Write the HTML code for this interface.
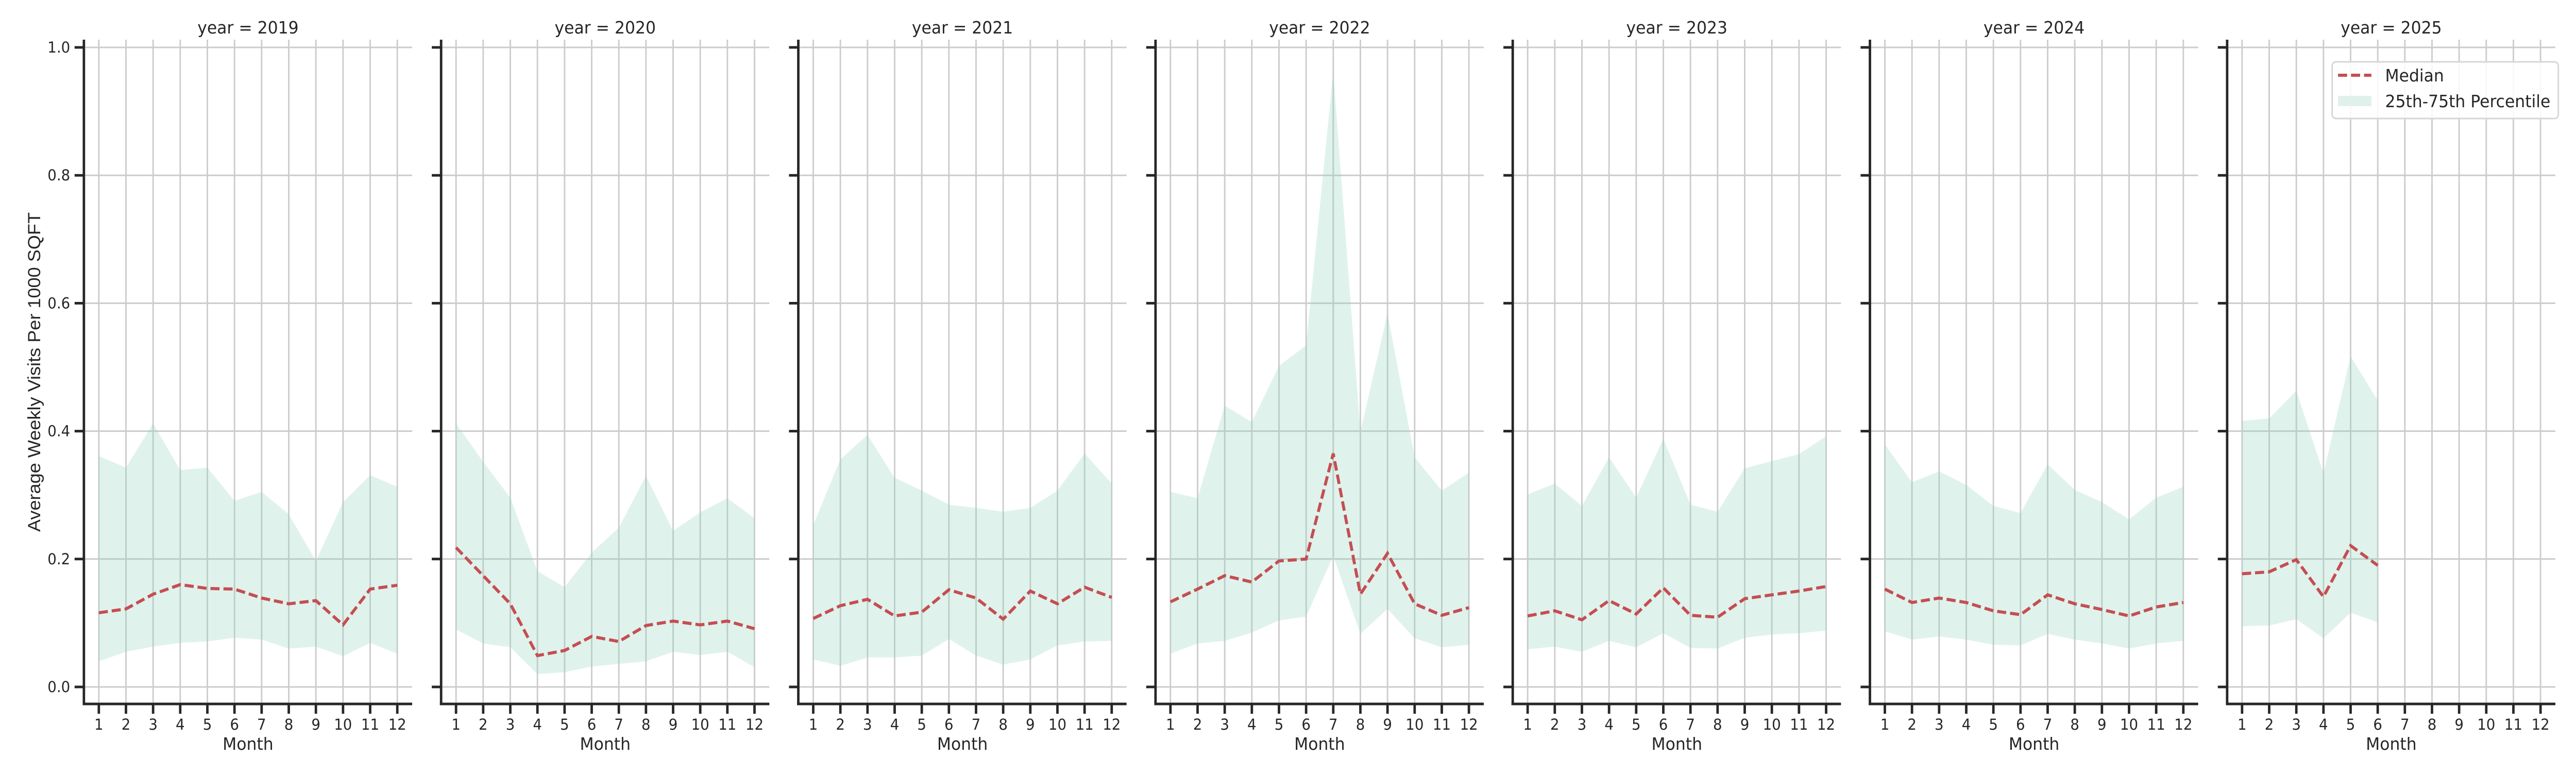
<!DOCTYPE html>
<html><head><meta charset="utf-8"><style>
html,body{margin:0;padding:0;background:#fff;overflow:hidden;width:100%;height:100%}
svg{display:block;width:100vw;height:100vh}
text{font-family:"DejaVu Sans","Liberation Sans",sans-serif;fill:#262626}
</style></head><body>
<svg id="chart" viewBox="0 0 5250 1500" preserveAspectRatio="none" xmlns="http://www.w3.org/2000/svg">
<text x="0" y="0" transform="translate(82,722) rotate(-90)" text-anchor="middle" font-size="36" textLength="620" lengthAdjust="spacingAndGlyphs" style="font-family:'Liberation Sans',sans-serif">Average Weekly Visits Per 1000 SQFT</text>
<g id="panels"></g>
<g>
<rect x="4753" y="120" width="461" height="110" rx="8" fill="#fff" fill-opacity="0.85" stroke="#d6d6d6" stroke-width="3"/>
<line x1="4765" y1="146" x2="4833" y2="146" stroke="#c44e52" stroke-width="6" stroke-dasharray="18.5,8"/>
<rect x="4765" y="186" width="68" height="20" fill="#e0f1ec"/>
<text x="4861" y="158" font-size="33">Median</text>
<text x="4861" y="208" font-size="33">25th-75th Percentile</text>
</g>
</svg>
<script>
const years = [2019,2020,2021,2022,2023,2024,2025];
const months = [1,2,3,4,5,6,7,8,9,10,11,12];
const yTicks = [0,0.2,0.4,0.6,0.8,1.0];
const yTickLabels = ["0.0","0.2","0.4","0.6","0.8","1.0"];
const median2019 = [0.116,0.122,0.145,0.160,0.154,0.153,0.139,0.130,0.135,0.097,0.153,0.159];
const lower2019 = [0.040,0.055,0.063,0.069,0.071,0.077,0.074,0.060,0.063,0.048,0.069,0.052];
const upper2019 = [0.361,0.343,0.412,0.339,0.343,0.291,0.305,0.270,0.197,0.289,0.331,0.313];
const median2020 = [0.218,0.174,0.130,0.049,0.057,0.079,0.071,0.096,0.103,0.097,0.103,0.091];
const lower2020 = [0.090,0.068,0.062,0.020,0.023,0.032,0.036,0.040,0.055,0.050,0.055,0.031];
const upper2020 = [0.412,0.352,0.296,0.181,0.156,0.210,0.249,0.330,0.244,0.273,0.295,0.264];
const median2021 = [0.107,0.127,0.137,0.111,0.117,0.152,0.139,0.106,0.150,0.130,0.156,0.140];
const lower2021 = [0.043,0.033,0.046,0.046,0.049,0.075,0.049,0.035,0.043,0.065,0.071,0.072];
const upper2021 = [0.253,0.356,0.394,0.327,0.307,0.285,0.280,0.274,0.280,0.307,0.365,0.318];
const median2022 = [0.133,0.153,0.174,0.164,0.197,0.200,0.365,0.145,0.209,0.130,0.112,0.124];
const lower2022 = [0.052,0.068,0.072,0.085,0.104,0.110,0.205,0.083,0.122,0.076,0.062,0.066];
const upper2022 = [0.305,0.295,0.440,0.414,0.502,0.534,0.962,0.399,0.584,0.359,0.307,0.335];
const median2023 = [0.111,0.119,0.105,0.135,0.114,0.155,0.112,0.109,0.138,0.144,0.150,0.157];
const lower2023 = [0.059,0.063,0.055,0.072,0.062,0.084,0.061,0.060,0.077,0.082,0.084,0.088];
const upper2023 = [0.301,0.318,0.283,0.359,0.296,0.388,0.285,0.274,0.342,0.353,0.364,0.392];
const median2024 = [0.153,0.132,0.139,0.132,0.119,0.113,0.144,0.130,0.121,0.111,0.125,0.132];
const lower2024 = [0.087,0.074,0.079,0.074,0.066,0.065,0.083,0.074,0.068,0.060,0.068,0.072];
const upper2024 = [0.379,0.320,0.337,0.316,0.283,0.272,0.348,0.308,0.289,0.262,0.296,0.313];
const median2025 = [0.177,0.180,0.199,0.141,0.221,0.190];
const lower2025 = [0.095,0.096,0.106,0.076,0.116,0.101];
const upper2025 = [0.416,0.420,0.463,0.334,0.517,0.448];

const medians = [median2019,median2020,median2021,median2022,median2023,median2024,median2025];
const lowers = [lower2019,lower2020,lower2021,lower2022,lower2023,lower2024,lower2025];
const uppers = [upper2019,upper2020,upper2021,upper2022,upper2023,upper2024,upper2025];

const NS = "http://www.w3.org/2000/svg";
const root = document.getElementById("panels");
const PITCH = 728, LEFT0 = 171, PW = 669, PXU = 55.3;
const Y0 = 1333, YS = 1241, TOP = 77, BOT = 1366;
function yScale(v){ return Y0 - v*YS; }
function mk(tag, attrs, parent){
  const e = document.createElementNS(NS, tag);
  for (const k in attrs) e.setAttribute(k, attrs[k]);
  parent.appendChild(e); return e;
}
years.forEach((yr, i) => {
  const L = LEFT0 + i*PITCH;
  const xScale = m => L + (m - 0.45)*PXU;
  const g = mk("g", {}, root);
  
  
  yTicks.forEach(t => {
    const l = mk("line", {x1:L, x2:L+PW, y1:yScale(t), y2:yScale(t), stroke:"#cccccc", "stroke-width":3}, g);
    
    
  });
  months.forEach(m => {
    const l = mk("line", {x1:xScale(m), x2:xScale(m), y1:TOP, y2:BOT, stroke:"#cccccc", "stroke-width":3}, g);
    
    
  });
  const up = uppers[i], lo = lowers[i], md = medians[i];
  let pts = up.map((v,k) => xScale(months[k]) + "," + yScale(v));
  for (let k = lo.length-1; k >= 0; k--) pts.push(xScale(months[k]) + "," + yScale(lo[k]));
  const band = mk("polygon", {points: pts.join(" "), fill:"#8fcfbb", "fill-opacity":"0.28"}, g);
  
  
  const med = mk("polyline", {points: md.map((v,k) => xScale(months[k]) + "," + yScale(v)).join(" "), fill:"none", stroke:"#c44e52", "stroke-width":6, "stroke-dasharray":"18.5,8"}, g);
  
  
  mk("line", {x1:L, x2:L, y1:TOP, y2:BOT+2.5, stroke:"#262626", "stroke-width":5}, g);
  mk("line", {x1:L-2.5, x2:L+PW, y1:BOT, y2:BOT, stroke:"#262626", "stroke-width":5}, g);
  yTicks.forEach((t, k) => {
    mk("line", {x1:L-19, x2:L, y1:yScale(t), y2:yScale(t), stroke:"#262626", "stroke-width":5}, g);
    if (i === 0) {
      const tx = mk("text", {x:L-28, y:yScale(t)+10, "text-anchor":"end", "font-size":29}, g);
      
      
      tx.textContent = yTickLabels[k];
    }
  });
  months.forEach(m => {
    mk("line", {x1:xScale(m), x2:xScale(m), y1:BOT, y2:BOT+19, stroke:"#262626", "stroke-width":5}, g);
    const tx = mk("text", {x:xScale(m), y:1416, "text-anchor":"middle", "font-size":29}, g);
    
    
    tx.textContent = m;
  });
  const xt = mk("text", {x:L+PW/2, y:1455, "text-anchor":"middle", "font-size":33}, g);
  
  
  xt.textContent = "Month";
  const tt = mk("text", {x:L+PW/2, y:65, "text-anchor":"middle", "font-size":33}, g);
  
  
  tt.textContent = "year = " + yr;
});
</script>
</body></html>
